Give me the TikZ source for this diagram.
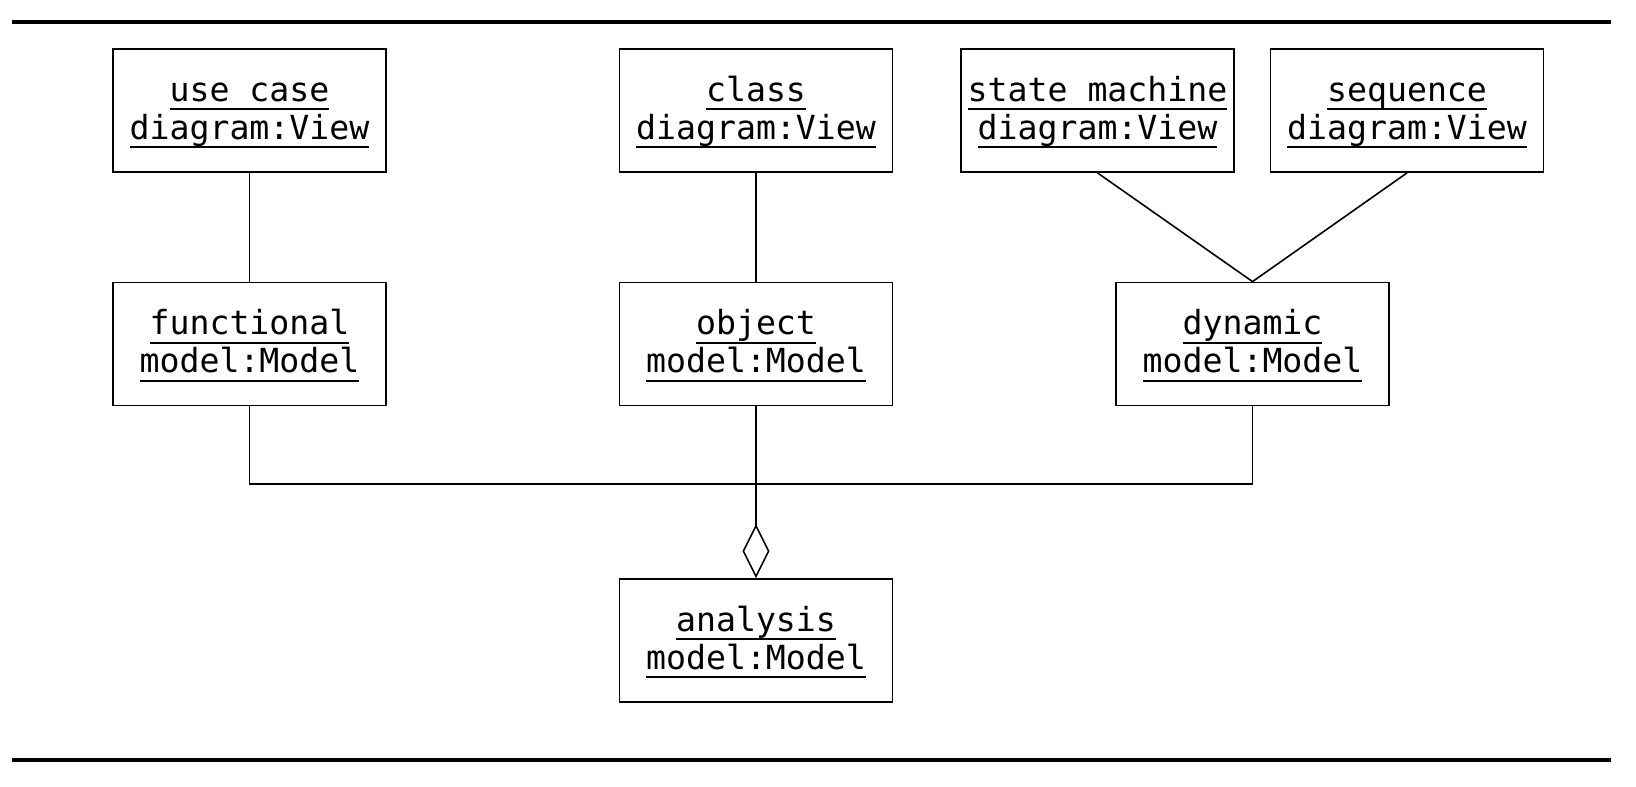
\documentclass[tikz,border=0pt]{standalone}
\usepackage{fontspec}
\setmonofont{DejaVu Sans Mono}
\usepackage{tikz}
\usetikzlibrary{arrows.meta}

\newcommand{\objline}[1]{\setbox0\hbox{#1}\rule{0pt}{14.4pt}\rlap{\rule[-4.5pt]{\wd0}{1pt}}\box0}

\begin{document}
\begin{tikzpicture}[x=0.5pt, y=-0.5pt,
  obj/.style={draw, line width=0.9pt, minimum width=136.5pt, minimum height=61.5pt,
    inner xsep=2pt, align=center, font=\ttfamily\fontsize{16.6}{19}\selectfont},
  link/.style={line width=0.8pt},
  rulebar/.style={line width=2pt}]
\useasboundingbox (0,0) rectangle (1636,786);
% frame rules
\draw[rulebar] (12,22) -- (1611,22);
\draw[rulebar] (12,759.5) -- (1611,759.5);
% views
\node[obj] (usecase) at (249.5,110.5) {\objline{use case}\\\objline{diagram:View}};
\node[obj] (classd) at (756,110.5) {\objline{class}\\\objline{diagram:View}};
\node[obj] (statem) at (1097.5,110.5) {\objline{state machine}\\\objline{diagram:View}};
\node[obj] (seqd) at (1407,110.5) {\objline{sequence}\\\objline{diagram:View}};
% models
\node[obj] (functional) at (249.5,344) {\objline{functional}\\\objline{model:Model}};
\node[obj] (object) at (756,344) {\objline{object}\\\objline{model:Model}};
\node[obj] (dynamic) at (1252.5,344) {\objline{dynamic}\\\objline{model:Model}};
\node[obj] (analysis) at (756,640.5) {\objline{analysis}\\\objline{model:Model}};
\coordinate (bus) at (756,484);
% connectors
\draw[link] (usecase) -- (functional);
\draw[link] (classd) -- (object);
\draw[link] (statem.south) -- (dynamic.north);
\draw[link] (seqd.south) -- (dynamic.north);
\draw[link] (functional.south) |- (bus) -| (dynamic.south);
\draw[link, -{Diamond[open, length=27pt, width=13.5pt, line width=0.8pt]}] (object.south) -- (analysis.north);
\end{tikzpicture}
\end{document}
